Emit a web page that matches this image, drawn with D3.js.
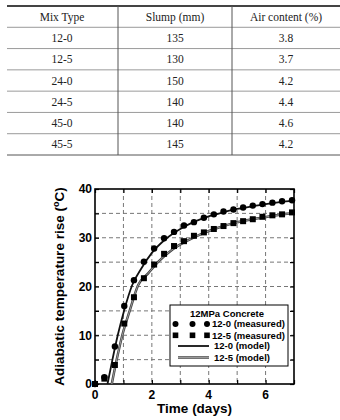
<!DOCTYPE html>
<html>
<head>
<meta charset="utf-8">
<script src="https://cdn.jsdelivr.net/npm/d3@7"></script>
<style>
  body { margin: 0; background: #fff; }
  svg { display: block; }
</style>
</head>
<body>
<div id="fig"></div>
<script>
// table data
var headers = ["Mix Type", "Slump (mm)", "Air content (%)"]
var mixTypes = ["12-0", "12-5", "24-0", "24-5", "45-0", "45-5"]
var slump = [135, 130, 150, 140, 140, 145]
var airContent = ["3.8", "3.7", "4.2", "4.4", "4.6", "4.2"]

// measured points (days, deg C)
var measDays = [0, 0.33, 0.70, 1.03, 1.37, 1.72, 2.08, 2.43, 2.78, 3.13, 3.48, 3.83, 4.18, 4.52, 4.87, 5.21, 5.55, 5.89, 6.24, 6.58, 6.93]
var meas120 = [0, 1.4, 7.7, 16.0, 21.3, 25.1, 27.8, 29.9, 31.2, 32.5, 33.2, 34.1, 34.8, 35.4, 35.8, 36.2, 36.6, 36.9, 37.2, 37.5, 37.7]
var meas125 = [0, 1.1, 3.9, 12.4, 17.8, 21.7, 24.5, 26.7, 28.3, 29.3, 30.4, 31.1, 31.8, 32.4, 33.0, 33.4, 33.8, 34.3, 34.6, 34.8, 35.2]

// model curves
var model120Days = [0.44, 0.61, 0.80, 1.03, 1.31, 1.64, 2.0, 2.5, 3.0, 3.5, 4.0, 4.5, 5.0, 5.5, 6.0, 6.5, 7.0]
var model120 = [0, 4.9, 10.0, 15.2, 20.3, 23.8, 26.9, 29.8, 31.8, 33.3, 34.4, 35.2, 35.9, 36.4, 36.9, 37.3, 37.6]
var model125Days = [0.59, 0.76, 0.96, 1.23, 1.52, 1.87, 2.25, 2.75, 3.25, 3.75, 4.25, 4.75, 5.25, 5.75, 6.25, 6.75, 7.0]
var model125 = [0, 4.9, 10.0, 15.2, 20.3, 22.7, 25.2, 27.7, 29.4, 30.8, 31.9, 32.8, 33.5, 34.0, 34.5, 34.9, 35.1]

var xTicks = [0, 2, 4, 6]
var yTicks = [0, 10, 20, 30, 40]

var svg = d3.select("#fig").append("svg")
    .attr("width", 340)
    .attr("height", 420)

// ---------- table ----------
var tbl = svg.append("g")
var colX = d3.scaleOrdinal().domain([0, 1, 2]).range([62, 175, 286])
var rowY = d3.scaleBand().domain(d3.range(7)).range([6, 155])
var serif = "'Liberation Serif', 'Times New Roman', serif"

// row separators
tbl.selectAll("line.row")
    .data(d3.range(1, 7))
    .enter().append("line")
    .attr("x1", 7).attr("x2", 340)
    .attr("y1", function(d) { return rowY(d) })
    .attr("y2", function(d) { return rowY(d) })
    .attr("stroke", "#9a9a9a").attr("stroke-width", 1)
tbl.append("line").attr("x1", 7).attr("x2", 340).attr("y1", 6).attr("y2", 6)
    .attr("stroke", "#444").attr("stroke-width", 2)
tbl.append("line").attr("x1", 7).attr("x2", 340).attr("y1", 155).attr("y2", 155)
    .attr("stroke", "#555").attr("stroke-width", 1)
tbl.selectAll("line.col")
    .data([118, 232])
    .enter().append("line")
    .attr("x1", function(d) { return d }).attr("x2", function(d) { return d })
    .attr("y1", 6).attr("y2", 155)
    .attr("stroke", "#555").attr("stroke-width", 1)

var rows = [headers]
for (var i = 0; i < mixTypes.length; i++) {
    rows.push([mixTypes[i], String(slump[i]), airContent[i]])
}
rows.forEach(function(r, ri) {
    r.forEach(function(txt, ci) {
        tbl.append("text")
            .attr("x", colX(ci))
            .attr("y", rowY(ri) + rowY.bandwidth() / 2 + 4)
            .attr("text-anchor", "middle")
            .attr("font-family", serif)
            .attr("font-size", "11.5px")
            .attr("fill", "#222")
            .text(txt)
    })
})

// ---------- chart ----------
var sans = "'Liberation Sans', Arial, sans-serif"
var pL = 95, pR = 294, pT = 189, pB = 384
var x = d3.scaleLinear().domain([0, 7]).range([pL, pR])
var y = d3.scaleLinear().domain([0, 40]).range([pB, pT])

var chart = svg.append("g").attr("font-family", sans)

chart.append("clipPath").attr("id", "clip")
    .append("rect").attr("x", pL).attr("y", pT)
    .attr("width", pR - pL).attr("height", pB - pT)

// dashed grid
chart.selectAll("line.gx")
    .data(d3.range(1, 7))
    .enter().append("line")
    .attr("x1", function(d) { return x(d) }).attr("x2", function(d) { return x(d) })
    .attr("y1", pT).attr("y2", pB)
    .attr("stroke", "#777").attr("stroke-dasharray", "4,3").attr("stroke-width", 1)
chart.selectAll("line.gy")
    .data(d3.range(5, 40, 5))
    .enter().append("line")
    .attr("y1", function(d) { return y(d) }).attr("y2", function(d) { return y(d) })
    .attr("x1", pL).attr("x2", pR)
    .attr("stroke", "#777").attr("stroke-dasharray", "4,3").attr("stroke-width", 1)

// axes with inward ticks
chart.append("g").attr("transform", "translate(0," + pB + ")")
    .call(d3.axisBottom(x).tickValues(d3.range(0, 8)).tickSizeInner(-4).tickSizeOuter(0).tickFormat(""))
chart.append("g").attr("transform", "translate(0," + pT + ")")
    .call(d3.axisTop(x).tickValues(d3.range(0, 8)).tickSizeInner(-4).tickSizeOuter(0).tickFormat(""))
chart.append("g").attr("transform", "translate(" + pL + ",0)")
    .call(d3.axisLeft(y).tickValues(d3.range(0, 45, 5)).tickSizeInner(-4).tickSizeOuter(0).tickFormat(""))
chart.append("g").attr("transform", "translate(" + pR + ",0)")
    .call(d3.axisRight(y).tickValues(d3.range(0, 45, 5)).tickSizeInner(-4).tickSizeOuter(0).tickFormat(""))
chart.selectAll(".domain").remove()
chart.selectAll(".tick line").attr("stroke", "#000").attr("stroke-width", 1.2)

chart.append("rect")
    .attr("x", pL).attr("y", pT)
    .attr("width", pR - pL).attr("height", pB - pT)
    .attr("fill", "none").attr("stroke", "#000").attr("stroke-width", 1.6)

// tick labels
chart.selectAll("text.xt")
    .data(xTicks)
    .enter().append("text")
    .attr("x", function(d) { return x(d) })
    .attr("y", 398.5)
    .attr("text-anchor", "middle")
    .attr("font-size", "12px").attr("font-weight", "bold")
    .text(function(d) { return d })
chart.selectAll("text.yt")
    .data(yTicks)
    .enter().append("text")
    .attr("x", pL - 3)
    .attr("y", function(d) { return y(d) + 4.3 })
    .attr("text-anchor", "end")
    .attr("font-size", "12px").attr("font-weight", "bold")
    .text(function(d) { return d })

// axis titles
chart.append("text")
    .attr("x", (pL + pR) / 2)
    .attr("y", 413)
    .attr("text-anchor", "middle")
    .attr("font-size", "13.5px").attr("font-weight", "bold")
    .text("Time (days)")
var yt = chart.append("text")
    .attr("transform", "translate(64," + ((pT + pB) / 2) + ") rotate(-90)")
    .attr("text-anchor", "middle")
    .attr("font-size", "13.5px").attr("font-weight", "bold")
yt.append("tspan").text("Adiabatic temperature rise (")
yt.append("tspan").attr("font-size", "9px").attr("dy", -5).text("o")
yt.append("tspan").attr("dy", 5).text("C)")

// model lines
var line = d3.line()
    .curve(d3.curveMonotoneX)
    .x(function(d) { return x(d[0]) })
    .y(function(d) { return y(d[1]) })
var m120 = d3.zip(model120Days, model120)
var m125 = d3.zip(model125Days, model125)
var lines = chart.append("g").attr("clip-path", "url(#clip)")
lines.append("path").datum(m125).attr("d", line)
    .attr("fill", "none").attr("stroke", "#444").attr("stroke-width", 2.5)
lines.append("path").datum(m125).attr("d", line)
    .attr("fill", "none").attr("stroke", "#999").attr("stroke-width", 1)
lines.append("path").datum(m120).attr("d", line)
    .attr("fill", "none").attr("stroke", "#111").attr("stroke-width", 1.8)

// measured points
chart.append("g").selectAll("rect")
    .data(d3.zip(measDays, meas125))
    .enter().append("rect")
    .attr("x", function(d) { return x(d[0]) - 3 })
    .attr("y", function(d) { return y(d[1]) - 3 })
    .attr("width", 6).attr("height", 6)
    .attr("fill", "#000")
chart.append("g").selectAll("circle")
    .data(d3.zip(measDays, meas120))
    .enter().append("circle")
    .attr("cx", function(d) { return x(d[0]) })
    .attr("cy", function(d) { return y(d[1]) })
    .attr("r", 3.2)
    .attr("fill", "#000")

// legend
var lg = chart.append("g")
lg.append("rect").attr("x", 170).attr("y", 305).attr("width", 118).attr("height", 61)
    .attr("fill", "#fff").attr("stroke", "#000").attr("stroke-width", 1)
lg.append("text").attr("x", 227).attr("y", 316.5).attr("text-anchor", "middle")
    .attr("font-size", "9.5px").attr("font-weight", "bold").text("12MPa Concrete")
var mk = [175.5, 192.5, 207]
mk.forEach(function(px) {
    lg.append("circle").attr("cx", px).attr("cy", 324).attr("r", 3).attr("fill", "#000")
    lg.append("rect").attr("x", px - 2.8).attr("y", 332.5).attr("width", 5.6).attr("height", 5.6).attr("fill", "#000")
})
lg.append("line").attr("x1", 178).attr("x2", 209).attr("y1", 346).attr("y2", 346)
    .attr("stroke", "#111").attr("stroke-width", 1.8)
lg.append("line").attr("x1", 178).attr("x2", 209).attr("y1", 357.5).attr("y2", 357.5)
    .attr("stroke", "#444").attr("stroke-width", 2.5)
lg.append("line").attr("x1", 178).attr("x2", 209).attr("y1", 357.5).attr("y2", 357.5)
    .attr("stroke", "#999").attr("stroke-width", 1)
var labels = [["12-0 (measured)", 212, 324], ["12-5 (measured)", 212, 335.3], ["12-0 (model)", 214, 346], ["12-5 (model)", 214, 357.5]]
labels.forEach(function(l) {
    lg.append("text").attr("x", l[1]).attr("y", l[2] + 3.4)
        .attr("font-size", "9.5px").attr("font-weight", "bold").text(l[0])
})
</script>
</body>
</html>
